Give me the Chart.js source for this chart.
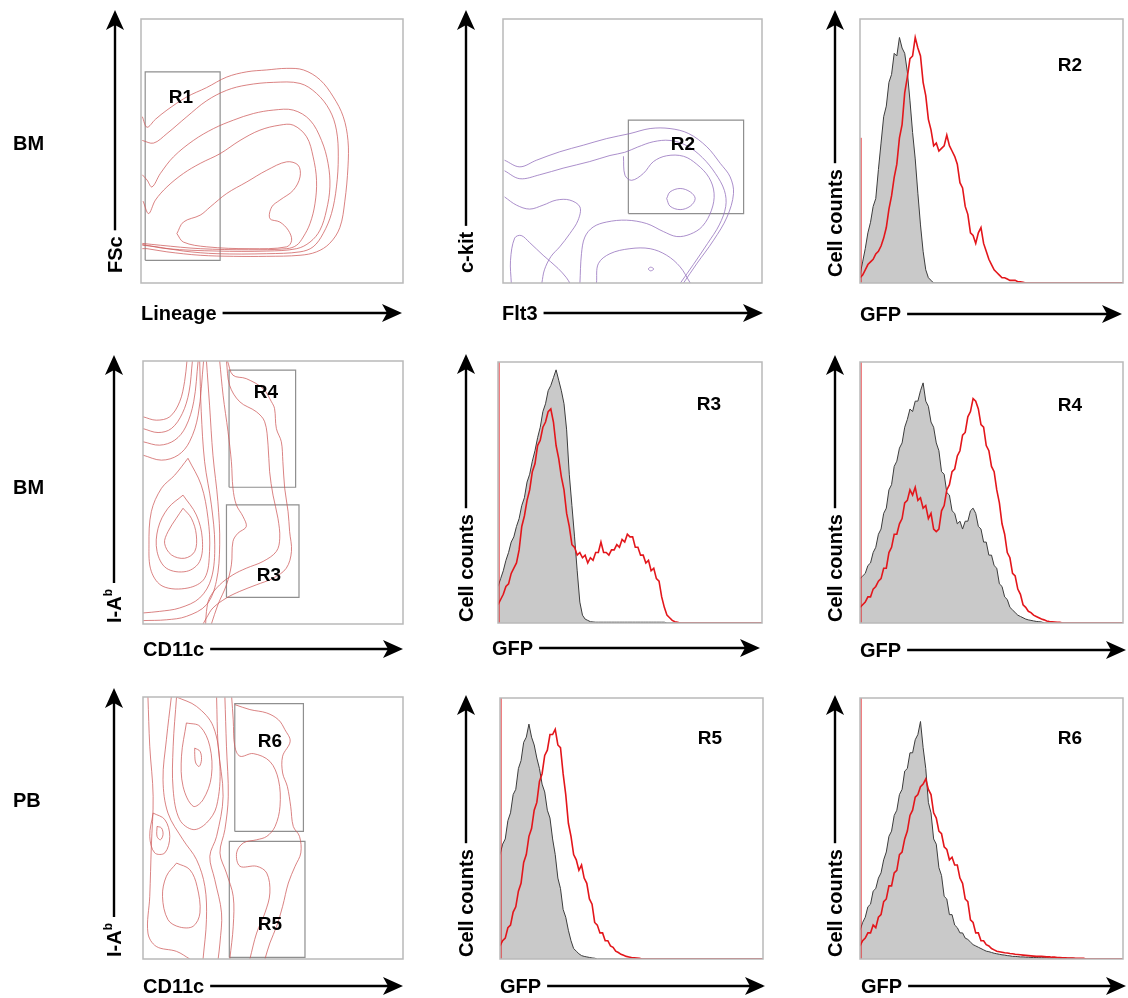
<!DOCTYPE html>
<html>
<head>
<meta charset="utf-8">
<script src="https://cdn.jsdelivr.net/npm/chart.js@4/dist/chart.umd.min.js"></script>
<style>
body{margin:0;background:#fff;width:1128px;height:998px;position:relative;overflow:hidden;font-family:"Liberation Sans",Arial,sans-serif;}
canvas{position:absolute}
.lbl{position:absolute;font-weight:bold;font-size:20px;line-height:1;color:#000;white-space:nowrap}
.gate{position:absolute;font-weight:bold;font-size:19px;line-height:1;color:#000;transform:translate(-50%,-50%)}
.ylbl{position:absolute;font-weight:bold;font-size:20px;line-height:1;white-space:nowrap;transform-origin:0 0;transform:rotate(-90deg) translateY(-50%)}
.ylbl sup{font-size:12px;position:relative;top:-2px}
svg{position:absolute;left:0;top:0}
</style>
</head>
<body>
<script>
// ---- data (units: 0-100 on both axes of each plot) ----
var rowNames = ['BM', 'BM', 'PB'];

// Lineage vs FSc (BM), red contours
var lineageFscContours = [
  [[0.5,63],[2.3,59],[5.5,62],[9.9,65.5],[17.5,70.5],[25,74],[32.7,78],[40.4,80],[48,80.7],[55.6,81.3],[62,80.7],[68.3,77],[73.4,70.5],[77.2,63],[79,54],[79,44],[77.8,31],[75.9,21],[72,15],[67,11.8],[60.7,10.5],[48,10.1],[35.3,10.1],[22.6,10.5],[9.9,11.8],[2.3,13],[0.5,13]],
  [[0.5,54],[4.8,53],[9.9,56.6],[17.5,63],[25,69],[32.7,73],[40.4,75],[50.5,76],[60.7,75.6],[67,71.8],[72,65.5],[74.6,57.9],[75.3,47.8],[74.6,36.4],[72.7,26.3],[69.5,18.7],[65.7,13.7],[60.7,11.8],[48,11.1],[29,11.1],[16.2,12.1],[6.1,13.7],[0.5,14.3]],
  [[0.5,41],[2.3,39],[4.2,36.4],[7.4,41.5],[12.4,47.8],[20,54],[27.7,58.5],[35.3,61.7],[42.9,64.2],[50.5,65.5],[58.1,65.5],[64.5,61.7],[68.9,54],[71.4,45.3],[72.1,36.4],[70.8,27.6],[68.3,20],[64.5,15.5],[59.4,13],[48,12.1],[29,12.1],[9.9,13],[0.5,14.6]],
  [[0.8,31],[2.9,26.3],[5.5,31.4],[9.9,36.4],[16.2,41.5],[22.6,45.3],[30.2,49],[37.8,54],[45.4,57.9],[53,59.8],[58.1,59.8],[63.2,55.4],[65.7,47.8],[67,38.9],[66.4,30],[64.5,22.5],[61.9,17.4],[59.4,14.3],[55.6,13],[41,12.6],[22.6,13],[7.4,14.3],[0.5,15]],
  [[13.7,18.7],[16.2,23.1],[22.6,25.7],[26.4,28.8],[32.7,33.9],[40.4,38.3],[48,42.7],[55.6,45.9],[60,44.6],[60.7,40.2],[58.1,35.1],[53,31.4],[49.9,28.8],[49.2,24.4],[53,23.1],[56.2,20],[57.5,16.2],[55.6,13.7],[41.6,13],[25.1,13.7],[16.2,15.5],[13.7,18.7]]
];
var gateR1 = [1.6, 30.2, 8.6, 80];

// Flt3 vs c-kit (BM), purple contours
var flt3KitContours = [
  [[0.6,46.5],[6.5,44],[12.9,46.5],[21.9,49.7],[31,52.2],[40,54.7],[49,56.6],[56.8,58.5],[64.5,58.5],[71.7,56.6],[78.7,51.6],[83.9,45.3],[87.7,40.2],[89,33.9],[86.5,25],[81.3,16.2],[74.8,7.3],[69.7,0]],
  [[0.6,42.5],[6.5,39.5],[14.2,41],[23.2,43.5],[33.5,46],[41.3,48.3],[47,49.5],[52,51.5],[58,53.5],[64.5,54],[71,52],[77,47.5],[82,41.5],[85.5,35],[86,29],[83.5,22],[79,15],[73.5,7],[68.5,0]],
  [[46.5,48],[47.1,40.8],[49.7,38.9],[54.2,41.5],[58.1,46],[63.2,48.2],[69.7,48],[74.8,45],[79.5,40],[81.5,34],[80.5,27.6],[77,21.5],[72.3,18.5],[67.1,17.6],[61.9,19.5],[55.5,22.5],[47.7,23.8],[40,23.1],[34.8,21.2],[31.6,17.4],[30.3,11.1],[29.7,0]],
  [[0.6,32.6],[5.2,29.5],[10.3,28],[15.5,29.5],[20.6,31.4],[25.8,31.4],[29.7,28.8],[29,23.8],[25.8,18.7],[21.9,13.7],[18.5,10],[16,5],[15,0]],
  [[3.2,0],[2.9,8.6],[4.5,17],[7,18],[10.3,15.3],[15.5,10.5],[21.3,5.5],[24.5,2],[25.8,0]],
  [[36.1,0],[36.8,7.3],[41.3,11.1],[49,13],[56.8,13],[63.2,10.5],[68.4,6.1],[72.3,0]],
  [[63.2,32],[64.5,34.5],[68.4,35.8],[72.3,34.5],[74.2,32],[72.3,29.1],[68.4,27.8],[64.5,29.1],[63.2,32]],
  [[56,5.3],[57,6],[58.2,5.3],[57,4.6],[56,5.3]]
];
var gateR2 = [48.4, 92.9, 26.3, 61.7];

// CD11c vs I-Ab (BM)
var bmIabContours = [
  [[0,78.8],[5.1,77.5],[10.3,78.8],[14.1,84.5],[16,92.2],[16.9,100]],
  [[0,74.3],[5.8,72.8],[10.9,74.3],[15.1,80],[17.7,88.2],[19,100]],
  [[0,69.3],[6.4,68],[12.2,69.9],[16.4,74.9],[19.5,84.5],[21.2,100]],
  [[0,64.2],[7.1,62.3],[13.5,64.2],[17.9,69.3],[21.2,79.4],[23.3,100]],
  [[15.4,44],[18.6,40.2],[20.5,33.9],[19.9,27.6],[16,25],[10.9,26.3],[8.3,30.7],[9.6,35.1],[12.8,40.2],[15.4,44]],
  [[15.4,49],[20.5,41.5],[22.8,32.6],[21.8,23.8],[16.7,20],[9,21.2],[5.4,27.6],[5.8,36.4],[9.6,44],[15.4,49]],
  [[17.3,63],[22.4,52.8],[25,40.2],[25.6,27.6],[23.7,17.4],[17.3,13.7],[7.7,14.3],[3.2,20],[2.3,30.1],[3.2,42.7],[7.1,51.6],[12.2,56.6],[17.3,63]],
  [[21.8,100],[22.4,80.7],[23.7,61.7],[26.3,45.3],[27.6,30.1],[26.3,17.4],[21.8,9.9],[14.1,6.1],[6.4,4.8],[0,4.2]],
  [[24.4,100],[25.6,83.2],[26.9,64.2],[28.8,46.5],[29.5,30.1],[28.2,16.2],[24.4,7.3],[16.7,2.9],[9,1.6],[0,1.3]],
  [[29.5,100],[30.8,87],[32.7,73.1],[34,61.7],[34.6,51.6],[35.9,45.3],[38.5,40.8],[39.7,37],[36.5,34.5],[34.6,31.4],[34,22.5],[32.1,14.9],[28.8,7.3],[26.3,0]],
  [[32.1,100],[33.3,90.8],[37.2,84.5],[43.6,80.7],[46.8,76.9],[48.1,68],[48.7,57.9],[50,49],[51.9,40.2],[52.6,32.6],[51.3,27.6],[46.2,23.8],[39.7,21.2],[34.6,18.7],[29.5,14.9],[25.6,9.9],[24.4,4.8],[24.1,0]],
  [[32.5,100],[34.6,94.6],[39.7,93.3],[46.2,89.5],[49.4,84.5],[50.6,81.9],[51.3,74.3],[53.2,69.3],[53.8,61.7],[54.5,51.6],[55.8,42.7],[56.4,35.1],[57.1,27.6],[55.1,21.2],[50,17.4],[43.6,14.9],[37.2,12.4],[32.1,9.9],[26.9,6.1],[24.4,2.3],[23.1,0]]
];
var gateR3 = [32.1, 60, 10.1, 45.3];
var gateR4 = [33.1, 58.7, 52, 96.5];

// CD11c vs I-Ab (PB)
var pbIabContours = [
  [[19.9,80.5],[21.9,79.3],[22.5,76.1],[21.6,73.5],[20.3,74.8],[19.9,78],[19.9,80.5]],
  [[5.4,50.6],[7.1,50],[7.7,47.5],[6.7,45.5],[5.4,46.8],[5.4,50.6]],
  [[16.7,90.1],[21.9,88.8],[25.7,81.2],[26.3,69.7],[23.1,60.8],[19.3,58.3],[15.4,65.9],[14.8,77.4],[16.7,90.1]],
  [[12.9,100],[20.6,96.4],[27,88.8],[29.6,73.5],[28.3,58.3],[24.4,51.9],[19.3,49.4],[14.1,53.2],[11.6,64.6],[11.6,81.2],[12.9,100]],
  [[3.9,55.7],[8.4,53.2],[10.3,46.8],[8.4,40.5],[4.5,40.5],[2.6,46.8],[3.9,55.7]],
  [[12.9,36.6],[18,34.1],[20.8,27.7],[21.9,17.6],[19.3,12.5],[14.1,12.2],[9.6,15],[7.5,23.9],[9,31.6],[12.9,36.6]],
  [[10.9,100],[9,83.7],[7.7,68.4],[9.6,55.7],[15.4,45.5],[20.6,37.9],[23.8,27.7],[24.4,15],[23.1,0]],
  [[1.9,100],[2.6,81.2],[3.9,62.1],[3.2,43],[2.6,23.9],[1.9,9.9],[5.1,4.8],[12.9,2.9],[18,0]],
  [[28.3,100],[28.9,81.2],[30.8,62.1],[28.3,46.8],[25.7,39.2],[27.6,30.3],[30.2,17.6],[29.6,6.1],[28.9,0]],
  [[31.5,100],[32.1,81.2],[32.8,62.1],[31.5,49.4],[29.6,40.5],[32.1,32.8],[34.7,23.9],[34.7,12.5],[33.4,0]],
  [[34.1,100],[34.7,91.3],[35.3,81.2],[37.3,77.4],[42.4,78.4],[48.8,75.4],[52.1,68.4],[52.7,58.3],[50.8,50.6],[47.6,46.8],[43.7,45.5],[38.6,44.3],[36,40.5],[37.3,35.4],[43.7,35.4],[47.6,32.8],[48.8,25.2],[46.9,17.6],[43.7,9.9],[41.1,0]],
  [[35.3,97.1],[41.1,95.2],[47.6,93.9],[52.1,91.3],[54.6,87.5],[56.6,83.1],[53.7,77.4],[53.7,71],[55.5,65.9],[56.8,58.3],[57.8,50.6],[60.2,46.8],[60.7,40.5],[58.5,35.4],[55.9,29],[53.7,20.1],[51.4,12.5],[48.8,6.1],[46.9,0]]
];
var gateR5 = [33.2, 62.3, 0.6, 44.9];
var gateR6 = [35.3, 61.7, 48.7, 97.5];

// GFP histograms, one value per channel step (control = grey, transduced = red)
var r2Control = [3,8,13,19,23,29,32,43,53,63,67,76,79,87,86,93,89,87,80,69,57,47,34,22,12,5,2,1,0];
var r2Gfp = [2,3,5,7,8,9,11,12,14,17,21,28,33,40,45,55,60,72,78,85,86,93,89,86,76,71,62,58,52,53,50,51,52,56,52,50,48,45,38,36,29,26,19,18,15,19,21,15,12,9,7,5,4,3,2,2,1.5,1,1,1,0.5,0.5,0.3,0];
var r3Control = [14,17,20,24,27,31,33,37,40,45,48,54,57,62,66,71,75,81,84,89,91,94,97,93,89,84,74,57,45,33,20,8,3,1.5,1,0.5,0.4,0.3,0.3,0.3,0.3,0.3,0.3,0.3,0.3,0.3,0.3,0.3,0.3,0.3,0.3,0.3,0.3,0.3,0.3,0.3,0.3,0.3,0.3,0.3,0.3,0.3,0.3,0.3,0];
var r3Gfp = [7,9,11,14,15,19,21,23,28,37,41,47,51,58,61,68,70,75,77,81,82,77,68,63,56,51,42,37,30,29,26,27,25,26,23,25,24,27,27,31,27,27,26,28,28,30,29,32,31,34,33,33,29,29,26,26,23,24,20,21,17,16,10,6,3,2,1,0.5,0.3,0];
var r4Control = [17,18,19,22,23,27,29,34,36,42,44,51,53,60,62,67,69,75,78,82,81,85,85,89,92,85,83,77,75,69,66,58,57,50,49,43,42,38,39,36,39,39,43,44,42,37,36,31,31,26,26,22,21,15,14,10,9,6,5,4,3,2.5,2,1.5,1.2,1,0.8,0.6,0.5,0.4,0];
var r4Gfp = [6,7,8,10,10,13,14,16,17,21,21,27,29,34,34,38,40,46,47,51,49,52,47,48,44,45,40,42,36,35,36,43,45,51,53,58,59,64,66,72,73,79,81,86,85,82,76,75,68,66,60,58,51,46,38,34,27,25,19,18,13,11,7,6,4.5,4,3,2.5,2,1.5,1.2,0.8,0.6,0.5,0.4,0.3,0.3,0];
var r5Control = [40,44,46,53,56,63,65,73,76,83,85,90,85,82,77,73,67,64,57,54,46,40,31,27,19,16,11,7,4,3,2,1.3,1,0.8,0.6,0.4,0.3,0];
var r5Gfp = [5,7,8,12,13,18,20,26,29,37,40,47,50,57,60,68,71,78,80,86,86,88,82,81,71,63,52,47,40,38,34,36,31,29,23,21,14,13,10,10,7,7,5,4.5,3,2.5,1.8,1.4,1,0.8,0.6,0.5,0.4,0.3,0];
var r6Control = [11,14,16,20,21,26,27,31,33,38,41,47,49,55,57,63,65,72,73,79,79,84,86,91,81,73,60,56,46,44,35,32,24,23,17,17,13,12,10,10,8,7.5,6.5,5.5,5,4.5,4,3.5,3,2.8,2.5,2.2,2,1.8,1.6,1.5,1.3,1.2,1,1,0.9,0.8,0.8,0.7,0.7,0.6,0.6,0.6,0.5,0.5,0.5,0.5,0.4,0.4,0.4,0.4,0.3,0.3,0.3,0.3,0.3,0.3,0.2,0.2,0.2,0.2,0];
var r6Gfp = [5,7,8,10,10,13,12,16,17,22,23,28,28,33,34,40,41,46,49,55,57,62,63,66,67,69,65,63,56,54,49,48,43,42,38,39,36,36,31,29,23,22,15,14,10,10,7,7,5.5,5,4,3.5,3,2.8,2.6,2.4,2.3,2.1,2,1.8,1.7,1.6,1.5,1.4,1.3,1.2,1.1,1,1,1,0.9,0.8,0.8,0.7,0.7,0.6,0.6,0.5,0.5,0.4,0.4,0.4,0.3,0.3,0.3,0.3,0];
// events piled in the first channel (red line on the left edge)
var firstChannelSpike = {R2: 55, R3: 100, R4: 100, R5: 100, R6: 100};
var channelMax = 100;

// ---- helpers ----
var frame = {
  id: 'frame',
  afterDatasetsDraw: function(chart){
    var a = chart.chartArea, ctx = chart.ctx;
    ctx.save();
    ctx.strokeStyle = '#b9b9b9';
    ctx.lineWidth = 1.5;
    ctx.strokeRect(a.left, a.top, a.right - a.left, a.bottom - a.top);
    ctx.restore();
  }
};

function pts(list){
  return list.map(function(p){ return {x: p[0], y: p[1]}; });
}
function contourSets(lines, color){
  return lines.map(function(l){
    return {data: pts(l), borderColor: color, borderWidth: 1, tension: 0.35, pointRadius: 0, fill: false};
  });
}
function gateSet(g){
  return {
    data: pts([[g[0],g[2]],[g[1],g[2]],[g[1],g[3]],[g[0],g[3]],[g[0],g[2]]]),
    borderColor: '#8f8f8f', borderWidth: 1.2, tension: 0, pointRadius: 0, fill: false
  };
}
function histSets(control, gfp, spike){
  var c = control.map(function(v, i){ return {x: i, y: v}; });
  c.push({x: channelMax, y: 0});
  var g = gfp.map(function(v, i){ return {x: i, y: v}; });
  g.push({x: channelMax, y: 0});
  return [
    {data: g, borderColor: '#e3161b', borderWidth: 1.6, tension: 0, pointRadius: 0, fill: false, order: 0},
    {data: [{x: 0.4, y: 0}, {x: 0.4, y: spike}], borderColor: '#e3161b', borderWidth: 1, pointRadius: 0, fill: false, order: 0},
    {data: c, borderColor: '#3c3c3c', borderWidth: 1, tension: 0, pointRadius: 0, fill: 'origin', backgroundColor: '#c9c9c9', order: 1}
  ];
}

var red = 'rgba(205,90,90,0.75)';
var purple = 'rgba(150,115,190,0.8)';

// panel boxes on the page: [left, top, right, bottom]
var panels = [
  {box: [141, 19, 403, 283], sets: contourSets(lineageFscContours, red).concat([gateSet(gateR1)])},
  {box: [503, 19, 762, 283], sets: contourSets(flt3KitContours, purple).concat([gateSet(gateR2)])},
  {box: [860, 19, 1123, 283], sets: histSets(r2Control, r2Gfp, firstChannelSpike.R2)},
  {box: [143, 361, 403, 624], sets: contourSets(bmIabContours, red).concat([gateSet(gateR3), gateSet(gateR4)])},
  {box: [498, 362, 762, 623], sets: histSets(r3Control, r3Gfp, firstChannelSpike.R3)},
  {box: [860, 362, 1123, 623], sets: histSets(r4Control, r4Gfp, firstChannelSpike.R4)},
  {box: [143, 697, 403, 959], sets: contourSets(pbIabContours, red).concat([gateSet(gateR5), gateSet(gateR6)])},
  {box: [500, 698, 763, 959], sets: histSets(r5Control, r5Gfp, firstChannelSpike.R5)},
  {box: [860, 698, 1123, 959], sets: histSets(r6Control, r6Gfp, firstChannelSpike.R6)}
];

var pad = 4;
panels.forEach(function(p){
  var b = p.box, cv = document.createElement('canvas');
  cv.width = b[2] - b[0] + 2 * pad;
  cv.height = b[3] - b[1] + 2 * pad;
  cv.style.left = (b[0] - pad) + 'px';
  cv.style.top = (b[1] - pad) + 'px';
  document.body.appendChild(cv);
  new Chart(cv, {
    type: 'line',
    data: {datasets: p.sets},
    options: {
      responsive: false, animation: false, events: [],
      layout: {padding: pad},
      plugins: {legend: {display: false}, tooltip: {enabled: false}},
      scales: {
        x: {type: 'linear', min: 0, max: 100, display: false},
        y: {type: 'linear', min: 0, max: 100, display: false}
      }
    },
    plugins: [frame]
  });
});

// ---- text and axis arrows ----
var svgNS = 'http://www.w3.org/2000/svg';
var svg = document.createElementNS(svgNS, 'svg');
svg.setAttribute('width', 1128);
svg.setAttribute('height', 998);
document.body.appendChild(svg);

function addDiv(cls, html, x, y){
  var d = document.createElement('div');
  d.className = cls;
  d.innerHTML = html;
  d.style.left = x + 'px';
  d.style.top = y + 'px';
  document.body.appendChild(d);
  return d;
}
function line(x1, y1, x2, y2){
  var l = document.createElementNS(svgNS, 'line');
  l.setAttribute('x1', x1); l.setAttribute('y1', y1);
  l.setAttribute('x2', x2); l.setAttribute('y2', y2);
  l.setAttribute('stroke', '#000'); l.setAttribute('stroke-width', 2.4);
  svg.appendChild(l);
}
function head(d){
  var p = document.createElementNS(svgNS, 'path');
  p.setAttribute('d', d);
  p.setAttribute('fill', '#000');
  svg.appendChild(p);
}

// row names
[143, 487, 800].forEach(function(cy, i){ addDiv('lbl', rowNames[i], 13, cy - 10); });

// x titles: [text, left, centre y, arrow tip x]
var xTitles = [
  ['Lineage', 141, 313, 402], ['Flt3', 502, 313, 763], ['GFP', 860, 314, 1122],
  ['CD11c', 143, 649, 403], ['GFP', 492, 648, 760], ['GFP', 860, 650, 1126],
  ['CD11c', 143, 986, 403], ['GFP', 500, 986, 765], ['GFP', 861, 986, 1126]
];
xTitles.forEach(function(t){
  var d = addDiv('lbl', t[0], t[1], t[2] - 10);
  var r = d.getBoundingClientRect().right + 6;
  line(r, t[2], t[3] - 14, t[2]);
  head('M' + t[3] + ' ' + t[2] + ' L' + (t[3] - 20) + ' ' + (t[2] - 9) + ' L' + (t[3] - 15) + ' ' + t[2] + ' L' + (t[3] - 20) + ' ' + (t[2] + 9) + ' Z');
});

// y titles: [text, centre x, bottom y, arrow tip y]
var yTitles = [
  ['FSc', 115, 273, 10], ['c-kit', 466, 273, 10], ['Cell counts', 835, 277, 10],
  ['I-A<sup>b</sup>', 114, 623, 355], ['Cell counts', 466, 622, 354], ['Cell counts', 835, 622, 355],
  ['I-A<sup>b</sup>', 114, 957, 688], ['Cell counts', 466, 957, 695], ['Cell counts', 835, 957, 695]
];
yTitles.forEach(function(t){
  var d = addDiv('ylbl', t[0], t[1], t[2]);
  var top = d.getBoundingClientRect().top - 6;
  line(t[1], top, t[1], t[3] + 14);
  head('M' + t[1] + ' ' + t[3] + ' L' + (t[1] - 9) + ' ' + (t[3] + 20) + ' L' + t[1] + ' ' + (t[3] + 15) + ' L' + (t[1] + 9) + ' ' + (t[3] + 20) + ' Z');
});

// gate names
var gateNames = [
  ['R1', 181, 96], ['R2', 683, 143], ['R2', 1070, 64],
  ['R4', 266, 391], ['R3', 269, 574], ['R3', 709, 403], ['R4', 1070, 404],
  ['R6', 270, 740], ['R5', 270, 923], ['R5', 710, 737], ['R6', 1070, 737]
];
gateNames.forEach(function(g){ addDiv('gate', g[0], g[1], g[2]); });
</script>
</body>
</html>
